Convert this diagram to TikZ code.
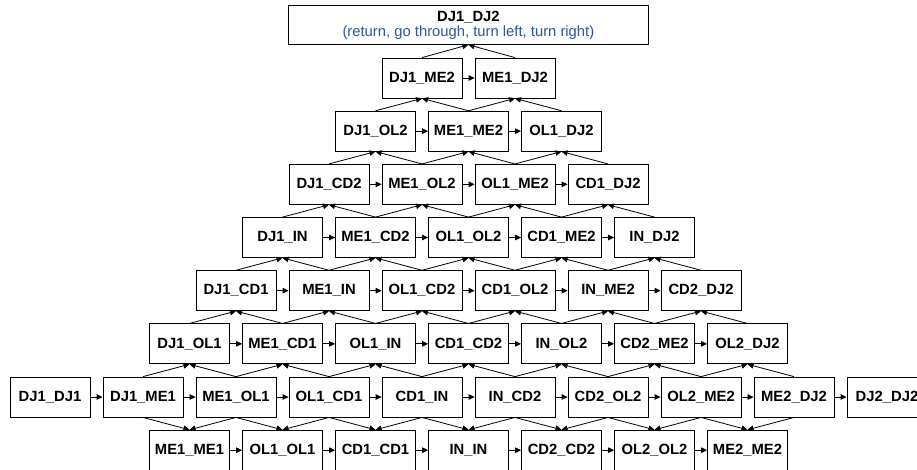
\documentclass[tikz,border=0pt]{standalone}
\usepackage{fontspec}
\setmainfont{Liberation Sans}
\usetikzlibrary{arrows.meta}
\definecolor{subblue}{RGB}{47,85,151}
\tikzset{
  box/.style={draw=black, line width=0.8pt, minimum width=80pt, minimum height=40pt, inner sep=0pt,
    font=\fontsize{14.8}{17}\selectfont\bfseries, fill=white},
  conn/.style={draw=black, line width=0.8pt, -{Triangle[length=6pt,width=5.5pt]}},
}
\begin{document}
\begin{tikzpicture}[x=1pt,y=-1pt]
\useasboundingbox (0,0) rectangle (917,470);
\clip (0,0) rectangle (917,470);
% top node
\node[draw=black, line width=0.8pt, minimum width=360pt, minimum height=39pt, inner sep=0pt, anchor=north west,
  align=center] (top) at (288,5)
  {{\fontsize{14.8}{17}\selectfont\bfseries DJ1\_DJ2}\\[1.5pt]
   {\fontsize{14.8}{17}\selectfont\color{subblue}(return, go through, turn left, turn right)}};
% rows 1..6
\foreach \r/\labs in {
  1/{DJ1\_ME2,ME1\_DJ2},
  2/{DJ1\_OL2,ME1\_ME2,OL1\_DJ2},
  3/{DJ1\_CD2,ME1\_OL2,OL1\_ME2,CD1\_DJ2},
  4/{DJ1\_IN,ME1\_CD2,OL1\_OL2,CD1\_ME2,IN\_DJ2},
  5/{DJ1\_CD1,ME1\_IN,OL1\_CD2,CD1\_OL2,IN\_ME2,CD2\_DJ2},
  6/{DJ1\_OL1,ME1\_CD1,OL1\_IN,CD1\_CD2,IN\_OL2,CD2\_ME2,OL2\_DJ2}}{
  \foreach \t [count=\k from 0] in \labs {
    \node[box] (n-\r-\k) at ({468.5-46.5*\r+93*\k},{78+53.17*(\r-1)}) {\t};
  }
}
% row 7
\foreach \t [count=\k from 0] in {DJ1\_DJ1,DJ1\_ME1,ME1\_OL1,OL1\_CD1,CD1\_IN,IN\_CD2,CD2\_OL2,OL2\_ME2,ME2\_DJ2,DJ2\_DJ2}{
  \node[box] (n-7-\k) at ({50+93*\k},{78+53.17*6}) {\t};
}
% row 8
\foreach \t [count=\k from 0] in {ME1\_ME1,OL1\_OL1,CD1\_CD1,IN\_IN,CD2\_CD2,OL2\_OL2,ME2\_ME2}{
  \node[box] (n-8-\k) at ({189.5+93*\k},{78+53.17*7}) {\t};
}
% horizontal arrows
\foreach \r/\n in {1/1,2/2,3/3,4/4,5/5,6/6,7/9,8/6}{
  \foreach \k [evaluate=\k as \kk using int(\k+1)] in {0,...,\numexpr\n-1\relax}{
    \draw[conn] (n-\r-\k.east) -- (n-\r-\kk.west);
  }
}
% into top
\draw[conn] (n-1-0.north) -- (top.south);
\draw[conn] (n-1-1.north) -- (top.south);
% rows 1..5 receive from row below
\foreach \r/\n in {1/1,2/2,3/3,4/4,5/5}{
  \foreach \k [evaluate=\k as \kk using int(\k+1), evaluate=\k as \rr using int(\r+1)] in {0,...,\n}{
    \draw[conn] (n-\rr-\k.north) -- (n-\r-\k.south);
    \draw[conn] (n-\rr-\kk.north) -- (n-\r-\k.south);
  }
}
% row 6 and row 8 receive from row 7
\foreach \k [evaluate=\k as \a using int(\k+1), evaluate=\k as \b using int(\k+2)] in {0,...,6}{
  \draw[conn] (n-7-\a.north) -- (n-6-\k.south);
  \draw[conn] (n-7-\b.north) -- (n-6-\k.south);
  \draw[conn] (n-7-\a.south) -- (n-8-\k.north);
  \draw[conn] (n-7-\b.south) -- (n-8-\k.north);
}
\end{tikzpicture}
\end{document}
